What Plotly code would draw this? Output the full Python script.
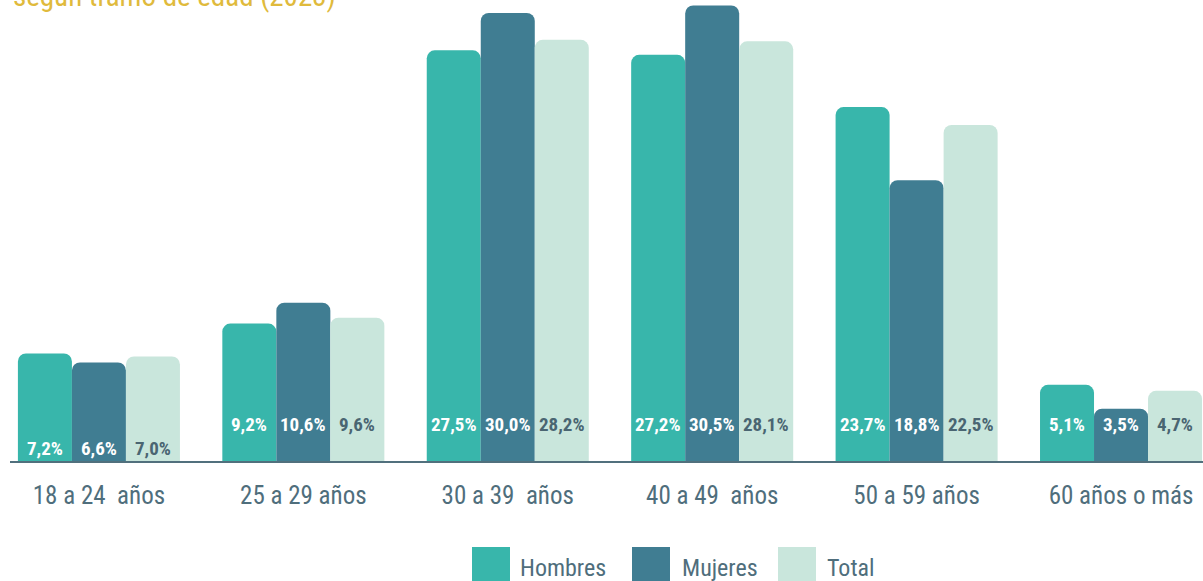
import plotly.graph_objects as go

categories = ["18 a 24\u00a0 años", "25 a 29 años", "30 a 39\u00a0 años",
              "40 a 49\u00a0 años", "50 a 59 años", "60 años o más"]
hombres = [7.2, 9.2, 27.5, 27.2, 23.7, 5.1]
mujeres = [6.6, 10.6, 30.0, 30.5, 18.8, 3.5]
total = [7.0, 9.6, 28.2, 28.1, 22.5, 4.7]
series_names = ["Hombres", "Mujeres", "Total"]
title_text = "según tramo de edad (2023)"

colors = ["#38B6AB", "#407D92", "#C9E6DC"]
label_colors = ["#FFFFFF", "#FFFFFF", "#4A6572"]
label_shift = [13, 37, 37, 37, 37, 37]  # px above baseline
FONT = "Liberation Sans Narrow, Roboto Condensed, Roboto, sans-serif"

W, H = 1203, 581
ML, MR, MT, MB = 10, 0, 0, 120
PW, PH = W - ML - MR, H - MT - MB

def px_x(p):
    return (p - ML) / PW

def px_y(p):
    return (H - MB - p) / PH

fig = go.Figure()
xs = list(range(len(categories)))
for name, vals, c in zip(series_names, [hombres, mujeres, total], colors):
    fig.add_trace(go.Bar(x=xs, y=vals, name=name, marker=dict(color=c, line=dict(width=0), cornerradius=8),
                         showlegend=False, hoverinfo="skip"))

bar_w = 0.2642
annotations = []
for j, (vals, lc) in enumerate(zip([hombres, mujeres, total], label_colors)):
    for i, v in enumerate(vals):
        annotations.append(dict(x=i + (j - 1) * bar_w, y=0, xref="x", yref="y",
                                text="<b>" + f"{v:.1f}".replace(".", ",") + "%</b>",
                                showarrow=False, yanchor="middle", yshift=label_shift[i],
                                font=dict(family=FONT, size=19, color=lc)))

annotations.append(dict(x=0, y=1, xref="paper", yref="paper", text=title_text, showarrow=False,
                        xanchor="left", yanchor="bottom", yshift=-15, xshift=1,
                        font=dict(family=FONT, size=29, color="#E0BA3C")))

shapes = []
legend_pos = [(472, 518), (632, 680), (778, 825)]
for (sx, tx), name, c in zip(legend_pos, series_names, colors):
    shapes.append(dict(type="rect", xref="paper", yref="paper", x0=px_x(sx), x1=px_x(sx + 38),
                       y0=px_y(547), y1=px_y(587), fillcolor=c, line=dict(width=0), layer="above"))
    annotations.append(dict(x=px_x(tx), y=px_y(568), xref="paper", yref="paper", text=name, showarrow=False,
                            xanchor="left", yanchor="middle",
                            font=dict(family=FONT, size=24, color="#4F6E7C")))

fig.update_layout(
    width=W, height=H,
    margin=dict(l=ML, r=MR, t=MT, b=MB),
    paper_bgcolor="white", plot_bgcolor="white",
    barmode="group", bargap=0.2074, bargroupgap=0,
    xaxis=dict(tickmode="array", tickvals=xs, ticktext=categories, range=[-0.435, 5.401],
               showline=True, linecolor="#51707D", linewidth=2, showgrid=False, zeroline=False,
               ticks="", ticklabelstandoff=11,
               tickfont=dict(family=FONT, size=25, color="#4F6E7C")),
    yaxis=dict(range=[0, 30.87], visible=False, showgrid=False, zeroline=False),
    annotations=annotations, shapes=shapes,
)

fig.write_html("out.html", config={"displayModeBar": False},
               post_script="document.body.style.margin='0px';document.body.style.padding='0px';")
